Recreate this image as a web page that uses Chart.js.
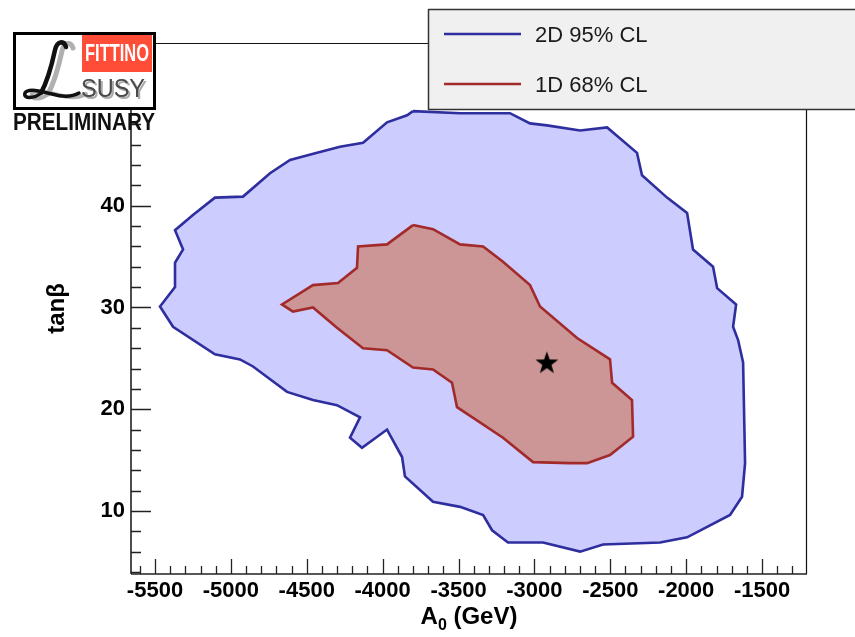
<!DOCTYPE html>
<html>
<head>
<meta charset="utf-8">
<title>Fittino: A0 vs tan beta</title>
<script src="https://cdn.jsdelivr.net/npm/chart.js@4.4.1/dist/chart.umd.min.js"></script>
<style>
  html, body { margin: 0; padding: 0; background: #ffffff; }
  #wrap { width: 855px; height: 637px; position: relative; }
</style>
</head>
<body>
<div id="wrap"><canvas id="c" width="855" height="637"></canvas></div>
<script>
// ---- axis settings ----
const xRange = [-5658, -1204];
const yRange = [3.8, 56];
const xTickValues = [-5500, -5000, -4500, -4000, -3500, -3000, -2500, -2000, -1500];
const yTickValues = [10, 20, 30, 40];

// ---- 2D 95% CL contour (A0 in GeV, tan beta) ----
const cl95A0 = [-3800, -3839, -3971, -4129, -4281, -4432, -4610, -4742, -4920, -5105,
  -5250, -5368, -5315, -5368, -5368, -5467, -5381, -5105, -4940, -4854,
  -4630, -4459, -4301, -4149, -4215, -4136, -3971, -3872, -3853, -3668,
  -3490, -3338, -3279, -3174, -2943, -2699, -2548, -2172, -1994, -1711,
  -1632, -1612, -1625, -1658, -1691, -1671, -1796, -1823, -1955, -1994,
  -2126, -2291, -2324, -2521, -2699, -2917, -3029, -3161, -3490, -3800];
const cl95TanB = [49.3, 48.9, 48.2, 46.2, 45.8, 45.2, 44.5, 43.2, 40.9, 40.8,
  39.1, 37.6, 35.7, 34.4, 32.0, 30.1, 28.1, 25.4, 24.9, 24.2,
  21.7, 20.9, 20.4, 19.2, 17.2, 16.2, 18.0, 15.3, 13.4, 10.9,
  10.4, 9.6, 8.1, 6.9, 6.9, 6.0, 6.7, 6.9, 7.4, 9.6,
  11.4, 14.7, 24.6, 26.8, 28.1, 30.3, 31.9, 34.0, 35.7, 39.3,
  40.8, 43.0, 45.2, 47.7, 47.4, 47.9, 48.1, 49.1, 49.1, 49.3];

// ---- 1D 68% CL contour ----
const cl68A0 = [-3800, -3668, -3490, -3338, -3207, -3029, -2963, -2719, -2502, -2488,
  -2357, -2350, -2502, -2653, -2765, -3009, -3207, -3510, -3543, -3668,
  -3800, -3971, -4129, -4301, -4459, -4591, -4663, -4459, -4294, -4169,
  -4162, -3971, -3800];
const cl68TanB = [38.1, 37.7, 36.2, 36.0, 34.5, 32.2, 30.1, 27.0, 24.9, 22.6,
  20.9, 17.3, 15.5, 14.7, 14.7, 14.8, 17.2, 20.2, 22.6, 23.9,
  24.1, 25.8, 26.0, 28.0, 30.0, 29.6, 30.3, 32.2, 32.4, 33.9,
  36.0, 36.2, 38.1];

// ---- best fit point ----
const bestFitA0 = [-2918];
const bestFitTanB = [24.6];

const seriesLabels = ['2D 95% CL', '1D 68% CL'];

function zip(xs, ys) { return xs.map((x, i) => ({ x: x, y: ys[i] })); }

// filled five-pointed star used as the best-fit marker
function starImage() {
  const s = 30, c = document.createElement('canvas');
  c.width = s; c.height = s;
  const g = c.getContext('2d');
  g.translate(s / 2, s / 2 + 1);
  g.beginPath();
  for (let i = 0; i < 10; i++) {
    const r = i % 2 === 0 ? 12 : 4.8;
    const a = -Math.PI / 2 + i * Math.PI / 5;
    g.lineTo(r * Math.cos(a), r * Math.sin(a));
  }
  g.closePath();
  g.fillStyle = '#000';
  g.fill();
  return c;
}

const BLUE_LINE = 'rgb(46,46,158)';
const BLUE_FILL = 'rgb(204,204,255)';
const RED_LINE = 'rgb(163,42,42)';
const RED_FILL = 'rgb(204,150,150)';
const FONT = '"Liberation Sans", Arial, sans-serif';

// draws text horizontally scaled to a given width
function fitText(ctx, text, x, y, width, font) {
  ctx.save();
  ctx.font = font;
  ctx.textAlign = 'left';
  const w = ctx.measureText(text).width;
  ctx.translate(x, y);
  ctx.scale(width / w, 1);
  ctx.fillText(text, 0, 0);
  ctx.restore();
}

// ROOT-style frame: inward ticks, axis lines, box, x title, logo and legend
const decorations = {
  id: 'decorations',
  afterDraw(chart) {
    const ctx = chart.ctx;
    const xs = chart.scales.x, ys = chart.scales.y;
    const a = chart.chartArea;
    ctx.save();

    // frame (top and right)
    ctx.strokeStyle = '#111';
    ctx.lineWidth = 1.2;
    ctx.beginPath();
    ctx.moveTo(a.left, a.top + 0.5); ctx.lineTo(a.right, a.top + 0.5);
    ctx.moveTo(a.right - 0.5, a.top); ctx.lineTo(a.right - 0.5, a.bottom);
    ctx.stroke();

    // axis lines
    ctx.strokeStyle = '#222';
    ctx.lineWidth = 1.6;
    ctx.beginPath();
    ctx.moveTo(a.left, a.bottom); ctx.lineTo(a.right, a.bottom);
    ctx.moveTo(a.left, a.top); ctx.lineTo(a.left, a.bottom);
    ctx.stroke();

    // x ticks: major every 500, minor every 100
    ctx.lineWidth = 1.3;
    ctx.beginPath();
    for (let v = -5600; v <= -1300; v += 100) {
      const px = Math.round(xs.getPixelForValue(v)) + 0.5;
      const len = (v % 500 === 0) ? 15 : 8;
      ctx.moveTo(px, a.bottom); ctx.lineTo(px, a.bottom - len);
    }
    // y ticks: major every 10, minor every 2
    for (let v = 4; v <= 56; v += 2) {
      const py = Math.round(ys.getPixelForValue(v)) + 0.5;
      const len = (v % 10 === 0) ? 20 : 10;
      ctx.moveTo(a.left, py); ctx.lineTo(a.left + len, py);
    }
    ctx.stroke();

    // x axis title with a subscript, centred under the plot
    {
      const big = 'bold 24px ' + FONT, small = 'bold 16px ' + FONT;
      ctx.fillStyle = '#000';
      ctx.textBaseline = 'alphabetic';
      ctx.textAlign = 'left';
      ctx.font = big; const wA = ctx.measureText('A').width;
      const wRest = ctx.measureText(' (GeV)').width;
      ctx.font = small; const w0 = ctx.measureText('0').width;
      let x = (a.left + a.right) / 2 - (wA + w0 + wRest) / 2;
      const base = 624;
      ctx.font = big; ctx.fillText('A', x, base); x += wA;
      ctx.font = small; ctx.fillText('0', x, base + 6); x += w0;
      ctx.font = big; ctx.fillText(' (GeV)', x, base);
    }

    // ---- logo ----
    ctx.fillStyle = '#fff';
    ctx.fillRect(13, 32, 143, 78);
    ctx.strokeStyle = '#000';
    ctx.lineWidth = 3;
    ctx.strokeRect(14.5, 33.5, 140, 75);
    ctx.fillStyle = 'rgb(255,77,56)';
    ctx.fillRect(82, 35, 70, 37);
    ctx.fillStyle = '#fff';
    ctx.textBaseline = 'middle';
    fitText(ctx, 'FITTINO', 85, 54, 64, 'bold 24px "Liberation Sans Narrow", "Liberation Sans"');
    // calligraphic L
    const drawL = (dx, dy, col, w1, w2) => {
      ctx.strokeStyle = col; ctx.lineCap = 'round'; ctx.lineJoin = 'round';
      ctx.lineWidth = w1;
      ctx.beginPath();
      ctx.moveTo(66 + dx, 47 + dy);
      ctx.bezierCurveTo(64 + dx, 40 + dy, 57 + dx, 41 + dy, 55 + dx, 50 + dy);
      ctx.bezierCurveTo(52 + dx, 64 + dy, 48 + dx, 80 + dy, 41 + dx, 93 + dy);
      ctx.stroke();
      ctx.lineWidth = w2;
      ctx.beginPath();
      ctx.moveTo(41 + dx, 93 + dy);
      ctx.bezierCurveTo(34 + dx, 99 + dy, 23 + dx, 99 + dy, 25 + dx, 93 + dy);
      ctx.bezierCurveTo(28 + dx, 88 + dy, 40 + dx, 91 + dy, 52 + dx, 94 + dy);
      ctx.bezierCurveTo(62 + dx, 97 + dy, 72 + dx, 97 + dy, 79 + dx, 93 + dy);
      ctx.stroke();
    };
    drawL(7, 1, '#b0b0b0', 5, 4);
    drawL(0, 0, '#111', 4.5, 3.5);
    ctx.fillStyle = '#aaa';
    fitText(ctx, 'SUSY', 83, 92, 64, '25px "Liberation Sans"');
    ctx.fillStyle = '#4a4a4a';
    fitText(ctx, 'SUSY', 81, 90, 64, '25px "Liberation Sans"');
    ctx.fillStyle = '#111';
    fitText(ctx, 'PRELIMINARY', 13, 123, 142, 'bold 24px "Liberation Sans"');

    // ---- legend ----
    ctx.fillStyle = '#f0f0f0';
    ctx.fillRect(428, 9, 440, 101);
    ctx.strokeStyle = '#333';
    ctx.lineWidth = 1.5;
    ctx.strokeRect(428.5, 9.5, 440, 100);
    const entries = [[BLUE_LINE, seriesLabels[0], 34], [RED_LINE, seriesLabels[1], 84]];
    entries.forEach(([col, text, y]) => {
      ctx.strokeStyle = col; ctx.lineWidth = 2.5; ctx.lineCap = 'butt';
      ctx.beginPath(); ctx.moveTo(444, y); ctx.lineTo(521, y); ctx.stroke();
      ctx.fillStyle = '#1a1a1a';
      ctx.font = '22px ' + FONT;
      ctx.textBaseline = 'middle';
      ctx.textAlign = 'left';
      ctx.fillText(text, 535, y + 2);
    });
    ctx.restore();
  }
};

const tickFont = { family: FONT, size: 22, weight: 'bold' };
const titleFont = { family: FONT, size: 24, weight: 'bold' };

new Chart(document.getElementById('c'), {
  type: 'scatter',
  data: {
    datasets: [
      {
        label: seriesLabels[1],
        data: zip(cl68A0, cl68TanB),
        showLine: true,
        borderColor: RED_LINE,
        backgroundColor: RED_FILL,
        borderWidth: 2.6,
        fill: 'shape',
        pointRadius: 0,
        tension: 0,
        order: 2
      },
      {
        label: seriesLabels[0],
        data: zip(cl95A0, cl95TanB),
        showLine: true,
        borderColor: BLUE_LINE,
        backgroundColor: BLUE_FILL,
        borderWidth: 2.6,
        fill: 'shape',
        pointRadius: 0,
        tension: 0,
        order: 3
      },
      {
        label: 'best fit',
        data: zip(bestFitA0, bestFitTanB),
        pointStyle: starImage(),
        pointRadius: 13,
        showLine: false,
        order: 1
      }
    ]
  },
  options: {
    responsive: false,
    animation: false,
    layout: { padding: { top: 43, right: 48, left: 0, bottom: 0 } },
    plugins: { legend: { display: false }, tooltip: { enabled: false } },
    scales: {
      x: {
        type: 'linear',
        min: xRange[0], max: xRange[1],
        afterBuildTicks: s => { s.ticks = xTickValues.map(v => ({ value: v })); },
        afterFit: s => { s.height = 63; },
        grid: { display: false, drawTicks: false },
        border: { display: false },
        ticks: { color: '#000', font: tickFont, padding: 4, maxRotation: 0, autoSkip: false,
                 callback: v => String(v) },
        title: { display: false }
      },
      y: {
        type: 'linear',
        min: yRange[0], max: yRange[1],
        afterBuildTicks: s => { s.ticks = yTickValues.map(v => ({ value: v })); },
        afterFit: s => { s.width = 131; },
        grid: { display: false, drawTicks: false },
        border: { display: false },
        ticks: { color: '#000', font: tickFont, padding: 6, callback: v => String(v) },
        title: { display: true, text: 'tanβ', color: '#000', font: titleFont,
                 padding: { top: 43, bottom: 0 } }
      }
    }
  },
  plugins: [decorations]
});
</script>
</body>
</html>
